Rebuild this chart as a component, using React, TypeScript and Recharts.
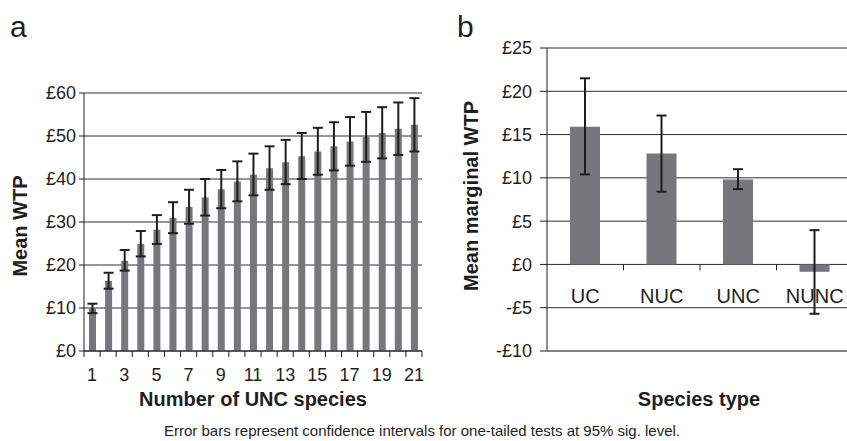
import React from 'react';
import { BarChart, Bar, XAxis, YAxis, CartesianGrid, ErrorBar } from 'recharts';

// ---- Panel a data ----
const speciesCount = [1, 2, 3, 4, 5, 6, 7, 8, 9, 10, 11, 12, 13, 14, 15, 16, 17, 18, 19, 20, 21];
const meanWTP = [9.9, 16.3, 21.0, 24.9, 28.2, 31.0, 33.5, 35.7, 37.6, 39.4, 41.0, 42.5, 43.9, 45.3, 46.4, 47.6, 48.7, 49.8, 50.7, 51.7, 52.6];
const lowerWTP = [8.8, 14.5, 18.7, 22.0, 24.9, 27.4, 29.6, 31.5, 33.2, 34.8, 36.2, 37.5, 38.8, 40.0, 41.0, 42.0, 43.1, 44.0, 44.8, 45.6, 46.4];
const upperWTP = [11.0, 18.2, 23.5, 27.9, 31.6, 34.6, 37.5, 40.0, 42.1, 44.1, 45.9, 47.6, 49.1, 50.7, 51.9, 53.2, 54.4, 55.6, 56.7, 57.8, 58.8];
const ticksA = [0, 10, 20, 30, 40, 50, 60];

// ---- Panel b data ----
const speciesTypes = ['UC', 'NUC', 'UNC', 'NUNC'];
const marginalWTP = [15.9, 12.8, 9.8, -0.85];
const lowerMarginal = [10.4, 8.4, 8.7, -5.7];
const upperMarginal = [21.5, 17.2, 11.0, 3.96];
const ticksB = [-10, -5, 0, 5, 10, 15, 20, 25];

const dataA = speciesCount.map((n, i) => ({
  n,
  wtp: meanWTP[i],
  err: [meanWTP[i] - lowerWTP[i], upperWTP[i] - meanWTP[i]],
}));
const dataB = speciesTypes.map((t, i) => ({
  t,
  wtp: marginalWTP[i],
  err: [marginalWTP[i] - lowerMarginal[i], upperMarginal[i] - marginalWTP[i]],
}));

const FONT = '"Liberation Sans", Arial, Helvetica, sans-serif';
const BAR = '#77777b';
const INK = '#1e1e1e';
const GRID = '#2e2e2e';

const fmt = (v: number) => (v < 0 ? `-£${-v}` : `£${v}`);

// Panel a geometry
const A_W = 440, A_H = 441, A_TOP = 93, A_BOTTOM = 60, A_XH = 30, A_LEFT_AXIS = 84, A_RIGHT = 18;
const A_BAND = (A_W - A_RIGHT - A_LEFT_AXIS) / speciesCount.length;
// Panel b geometry
const B_W = 403, B_H = 441, B_TOP = 48, B_BOTTOM = 60, B_XH = 30, B_LEFT_AXIS = 97;
const B_PLOT_H = B_H - B_TOP - B_BOTTOM - B_XH;
const B_MIN = -10, B_MAX = 25;
const B_BAND = (B_W - B_LEFT_AXIS) / speciesTypes.length;

const TickA = (props: any) => {
  const { x, y, payload } = props;
  const half = (payload && payload.offset) || A_BAND / 2;
  const idx = payload.index ?? speciesCount.indexOf(payload.value);
  const isLast = idx === speciesCount.length - 1;
  return (
    <g>
      <line x1={x - half} x2={x - half} y1={y} y2={y + 6} stroke={INK} strokeWidth={1} />
      {isLast && <line x1={x + half} x2={x + half} y1={y} y2={y + 6} stroke={INK} strokeWidth={1} />}
      {idx % 2 === 0 && (
        <text x={x} y={y + 24} textAnchor="middle" dy="0.35em" fontSize={18} fontFamily={FONT} fill={INK}>
          {payload.value}
        </text>
      )}
    </g>
  );
};

const TickB = (props: any) => {
  const { x, y, payload } = props;
  const half = (payload && payload.offset) || B_BAND / 2;
  const idx = payload.index ?? speciesTypes.indexOf(payload.value);
  const zeroY = y - (B_PLOT_H * (0 - B_MIN)) / (B_MAX - B_MIN);
  return (
    <g>
      {idx > 0 && <line x1={x - half} x2={x - half} y1={zeroY} y2={zeroY + 6} stroke={INK} strokeWidth={1} />}
      <text x={x} y={zeroY + 32} textAnchor="middle" dy="0.35em" fontSize={20} fontFamily={FONT} fill={INK}>
        {payload.value}
      </text>
    </g>
  );
};

export default function App() {
  return (
    <div style={{ position: 'absolute', left: 0, top: 0, width: 847, height: 441, overflow: 'hidden', background: '#fff' }}>
      <div style={{ position: 'absolute', left: 0, top: 0 }}>
        <BarChart width={A_W} height={A_H} data={dataA} margin={{ top: A_TOP, right: A_RIGHT, bottom: A_BOTTOM, left: 0 }} barCategoryGap={0}>
          <CartesianGrid vertical={false} stroke={GRID} strokeWidth={1} />
          <YAxis
            width={A_LEFT_AXIS}
            domain={[0, 60]}
            ticks={ticksA}
            tickFormatter={fmt}
            axisLine={{ stroke: INK, strokeWidth: 1 }}
            tickLine={{ stroke: INK, strokeWidth: 1 }}
            tickSize={5}
            tickMargin={3}
            tick={{ fontSize: 18, fontFamily: FONT, fill: INK }}
          />
          <XAxis
            dataKey="n"
            type="category"
            interval={0}
            height={A_XH}
            tickSize={0}
            tickMargin={0}
            tickLine={false}
            axisLine={{ stroke: INK, strokeWidth: 1 }}
            tick={(p: any) => <TickA {...p} />}
          />
          <Bar dataKey="wtp" fill={BAR} barSize={7} isAnimationActive={false}>
            <ErrorBar dataKey="err" width={5} strokeWidth={2} stroke={INK} direction="y" isAnimationActive={false} />
          </Bar>
        </BarChart>
      </div>
      <div style={{ position: 'absolute', left: 450, top: 0 }}>
        <BarChart width={B_W} height={B_H} data={dataB} margin={{ top: B_TOP, right: 0, bottom: B_BOTTOM, left: 0 }} barCategoryGap={0}>
          <CartesianGrid vertical={false} stroke={GRID} strokeWidth={1} />
          <YAxis
            width={B_LEFT_AXIS}
            domain={[B_MIN, B_MAX]}
            ticks={ticksB}
            tickFormatter={fmt}
            axisLine={{ stroke: INK, strokeWidth: 1 }}
            tickLine={{ stroke: INK, strokeWidth: 1 }}
            tickSize={7}
            tickMargin={8}
            tick={{ fontSize: 18, fontFamily: FONT, fill: INK }}
          />
          <XAxis
            dataKey="t"
            type="category"
            interval={0}
            height={B_XH}
            tickSize={0}
            tickMargin={0}
            tickLine={false}
            axisLine={{ stroke: '#777', strokeWidth: 1.5 }}
            tick={(p: any) => <TickB {...p} />}
          />
          <Bar dataKey="wtp" fill={BAR} barSize={30} isAnimationActive={false}>
            <ErrorBar dataKey="err" width={5} strokeWidth={2} stroke={INK} direction="y" isAnimationActive={false} />
          </Bar>
        </BarChart>
      </div>
      <svg width={847} height={441} style={{ position: 'absolute', left: 0, top: 0, pointerEvents: 'none' }}>
        <text x={10} y={37} fontSize={30} fontFamily={FONT} fill={INK}>a</text>
        <text x={457} y={37} fontSize={30} fontFamily={FONT} fill={INK}>b</text>
        <text
          x={20}
          y={226}
          transform="rotate(-90 20 226)"
          textAnchor="middle"
          dominantBaseline="central"
          fontSize={20}
          fontWeight="bold"
          fontFamily={FONT}
          fill={INK}
        >
          Mean WTP
        </text>
        <text x={253} y={406} textAnchor="middle" fontSize={20} fontWeight="bold" fontFamily={FONT} fill={INK}>
          Number of UNC species
        </text>
        <text
          x={471}
          y={196}
          transform="rotate(-90 471 196)"
          textAnchor="middle"
          dominantBaseline="central"
          fontSize={20}
          fontWeight="bold"
          fontFamily={FONT}
          fill={INK}
        >
          Mean marginal WTP
        </text>
        <text x={699} y={406} textAnchor="middle" fontSize={20} fontWeight="bold" fontFamily={FONT} fill={INK}>
          Species type
        </text>
        <text x={422} y={436} textAnchor="middle" fontSize={15} fontFamily={FONT} fill={INK}>
          Error bars represent confidence intervals for one-tailed tests at 95% sig. level.
        </text>
      </svg>
    </div>
  );
}
